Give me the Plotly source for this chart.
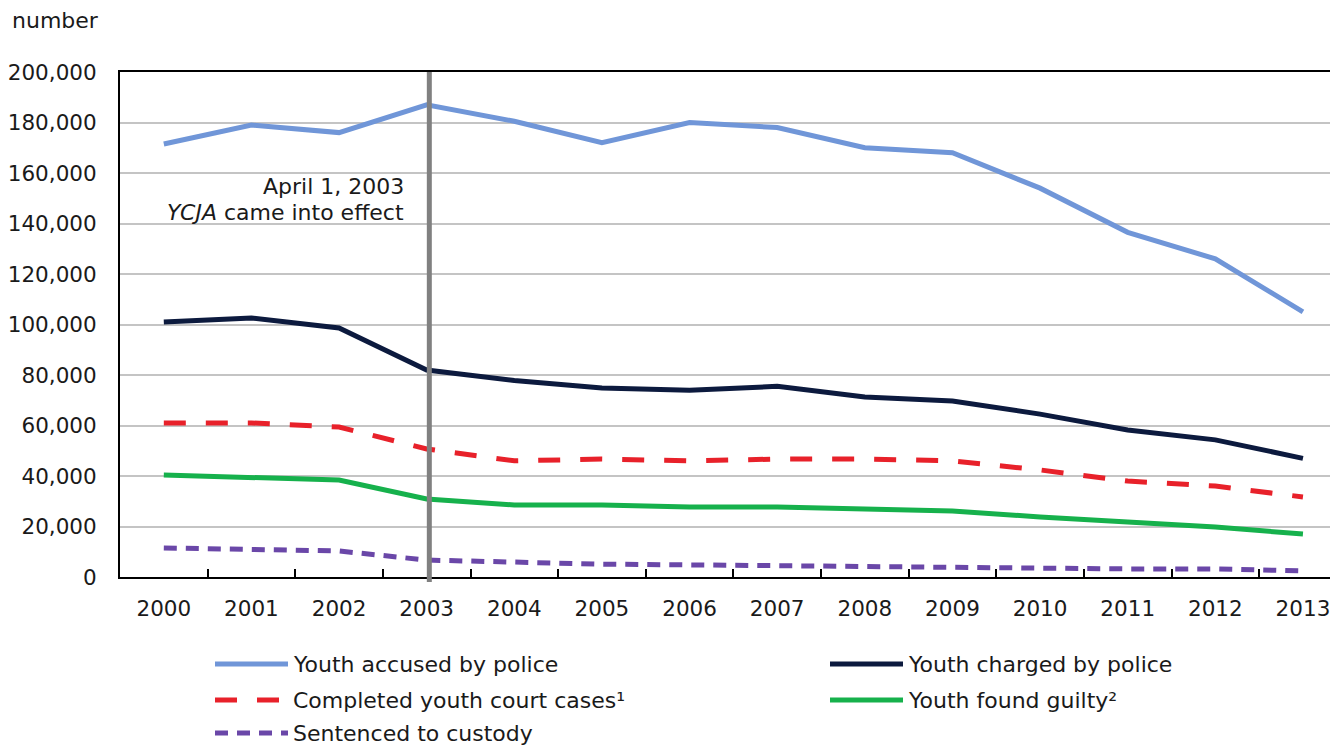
import plotly.graph_objects as go

years = [str(y) for y in range(2000, 2014)]
accused = [171500, 179000, 176000, 187000, 180500, 172000, 180000, 178000, 170000, 168000, 154000, 136500, 126000, 105000]
charged = [101000, 102600, 98600, 82000, 77800, 74900, 74000, 75500, 71300, 69700, 64500, 58200, 54300, 47000]
court = [61000, 61000, 59400, 50700, 46000, 46700, 46000, 46700, 46700, 46000, 42400, 38000, 36000, 31700]
guilty = [40400, 39600, 38400, 30900, 28500, 28500, 27700, 27700, 26900, 26100, 23800, 21800, 19800, 17000]
custody = [11500, 10700, 10300, 6700, 5900, 5100, 4800, 4400, 4400, 4000, 3600, 3200, 3200, 2400]
y_ticks = list(range(0, 200001, 20000))

names = ["Youth accused by police", "Youth charged by police", "Completed youth court cases\u00b9",
         "Youth found guilty\u00b2", "Sentenced to custody"]
colors = ["#7096d8", "#0c1a3e", "#e8212a", "#16b14c", "#6a47a8"]
dashes = ["solid", "solid", "22px,20px", "solid", "13px,9px"]
widths = [5, 5, 5, 5, 5]
series = [accused, charged, court, guilty, custody]

FONT = "DejaVu Sans"
OFF = 8  # page body margin
W, H = 1338 - OFF, 746 - OFF
L, T = 120 - OFF, 72 - OFF
B = H - (577 - OFF)
pw, ph = W - L, H - T - B


def px(x):
    return (x - OFF - L) / pw


def py(y):
    return (H - B - (y - OFF)) / ph


fig = go.Figure()
for s, n, c, d, w in zip(series, names, colors, dashes, widths):
    fig.add_trace(go.Scatter(x=years, y=s, name=n, mode="lines",
                             line=dict(color=c, width=w, dash=d), showlegend=False))

fig.update_layout(
    width=W, height=H,
    margin=dict(l=L, r=0, t=T, b=B),
    paper_bgcolor="white", plot_bgcolor="white",
    font=dict(family=FONT, size=22, color="#1a1a1a"),
    xaxis=dict(type="category", range=[-0.5, 13.4], showgrid=False,
               showline=True, linecolor="black", linewidth=2, mirror=True,
               ticks="inside", tickson="boundaries", ticklen=8, tickcolor="black", tickwidth=2,
               tickfont=dict(size=21.5), ticklabelstandoff=11),
    yaxis=dict(range=[0, 200000], tickvals=y_ticks, tickformat=",", showgrid=True,
               gridcolor="#c4c4c4", gridwidth=2, zeroline=False,
               showline=True, linecolor="black", linewidth=2,
               ticks="", tickfont=dict(size=21.5), ticklabelstandoff=17),
)

# vertical line at 2003
fig.add_shape(type="line", xref="x", yref="paper", x0=3.03, x1=3.03, y0=-0.01, y1=1,
              line=dict(color="#808080", width=5))

fig.add_annotation(x=px(406), y=py(186), xref="paper", yref="paper", text="April 1, 2003",
                   showarrow=False, xanchor="right", yanchor="middle")
fig.add_annotation(x=px(406), y=py(212), xref="paper", yref="paper", text="<i>YCJA</i> came into effect",
                   showarrow=False, xanchor="right", yanchor="middle")
fig.add_annotation(x=px(10), y=py(21), xref="paper", yref="paper", text="number",
                   showarrow=False, xanchor="left", yanchor="middle")

# custom legend
leg_pos = [(215, 664), (830, 664), (215, 700), (830, 700), (215, 733)]
for (lx, ly), n, c, d in zip(leg_pos, names, colors, dashes):
    fig.add_shape(type="line", xref="paper", yref="paper", x0=px(lx), x1=px(lx + 73),
                  y0=py(ly), y1=py(ly), line=dict(color=c, width=5, dash=d))
    fig.add_annotation(x=px(lx + 76), y=py(ly), xref="paper", yref="paper", text=n,
                       showarrow=False, xanchor="left", yanchor="middle")

fig.write_html("out.html")
